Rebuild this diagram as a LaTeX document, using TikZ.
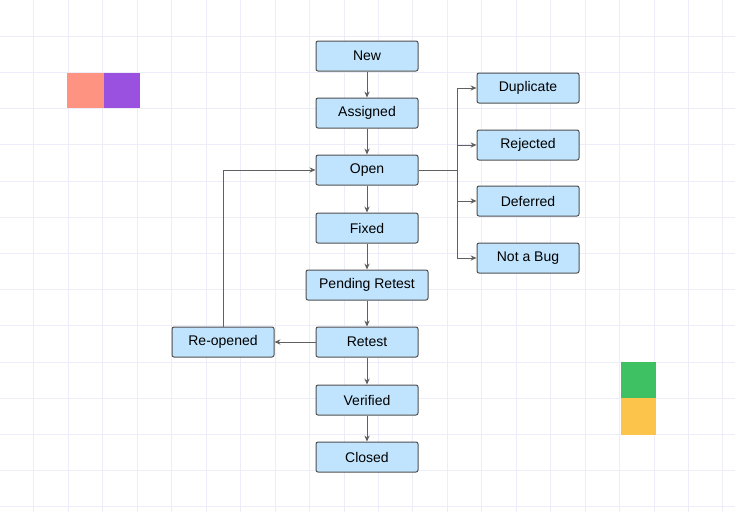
\documentclass[tikz,border=0pt]{standalone}
\usepackage{fontspec}
\setmainfont{Liberation Sans}
\usetikzlibrary{arrows.meta}

\definecolor{boxblue}{HTML}{C0E4FD}
\definecolor{boxedge}{HTML}{505050}
\definecolor{linegray}{HTML}{606060}
\definecolor{gridline}{HTML}{EDEDFA}
\definecolor{salmon}{HTML}{FF9382}
\definecolor{violet}{HTML}{9B51E0}
\definecolor{leaf}{HTML}{3EC162}
\definecolor{amber}{HTML}{FCC44B}

\begin{document}
\begin{tikzpicture}[x=0.75pt, y=-0.75pt,
    font=\fontsize{10.5}{12}\selectfont,
    state/.style={draw=boxedge, fill=boxblue, rounded corners=1.5pt,
      line width=0.75pt, minimum width=76.5pt, minimum height=22.5pt, inner sep=0pt},
    flow/.style={draw=linegray, line width=0.75pt, -{Stealth[length=4.5pt,width=4pt]}}]
    \fill[white] (0,0) rectangle (735,512);
    \useasboundingbox (0,0) rectangle (735,512);

    % grid
    \foreach \i in {0,...,21}
      \draw[gridline, line width=0.75pt] (-0.5+34.45*\i,0) -- ++(0,512);
    \foreach \j in {1,...,14}
      \draw[gridline, line width=0.75pt] (0,36.2*\j) -- ++(735,0);

    \fill[salmon] (67,73) rectangle (104,108);
    \fill[violet] (104,73) rectangle (140,108);
    \fill[leaf]   (621,362) rectangle (656,398);
    \fill[amber]  (621,398) rectangle (656,435);

    \node[state] (new)      at (367,56)  {New};
    \node[state] (assigned) at (367,113) {Assigned};
    \node[state] (open)     at (367,170) {Open};
    \node[state] (fixed)    at (367,228) {Fixed};
    \node[state, minimum width=91.5pt] (pending) at (367,285) {Pending Retest};
    \node[state] (retest)   at (367,342) {Retest};
    \node[state] (verified) at (367,400) {Verified};
    \node[state] (closed)   at (367,457) {Closed};
    \node[state] (reopened) at (223,342) {Re-opened};

    \node[state] (duplicate) at (528,88)  {Duplicate};
    \node[state] (rejected)  at (528,145) {Rejected};
    \node[state] (deferred)  at (528,201) {Deferred};
    \node[state] (notabug)   at (528,258) {Not a Bug};

    \draw[flow] (new) -- (assigned);
    \draw[flow] (assigned) -- (open);
    \draw[flow] (open) -- (fixed);
    \draw[flow] (fixed) -- (pending);
    \draw[flow] (pending) -- (retest);
    \draw[flow] (retest) -- (verified);
    \draw[flow] (verified) -- (closed);
    \draw[flow] (retest) -- (reopened);
    \draw[flow] (reopened.north) |- (open.west);

    \coordinate (fork) at (457,170);
    \draw[draw=linegray, line width=0.75pt] (open.east) -- (fork);
    \draw[flow] (fork) |- (duplicate.west);
    \draw[flow] (fork) |- (rejected.west);
    \draw[flow] (fork) |- (deferred.west);
    \draw[flow] (fork) |- (notabug.west);
\end{tikzpicture}
\end{document}
